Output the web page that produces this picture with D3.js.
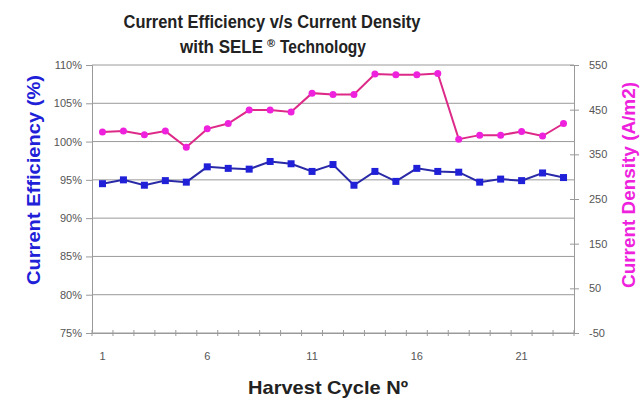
<!DOCTYPE html>
<html>
<head>
<meta charset="utf-8">
<script src="https://cdnjs.cloudflare.com/ajax/libs/d3/7.8.5/d3.min.js"></script>
<style>
  body { margin: 0; background: #fff; }
  text { font-family: "Liberation Sans", Arial, sans-serif; }
</style>
</head>
<body>
<div id="chart"></div>
<script>
// harvest cycles 1..23
let cycles = d3.range(1, 24);
let cycleLabels = [1, 6, 11, 16, 21];

// current efficiency (%), left axis
let efficiency = [94.5, 95.0, 94.3, 94.9, 94.7, 96.7, 96.5, 96.4, 97.4, 97.1, 96.1, 97.0,
  94.3, 96.1, 94.8, 96.5, 96.1, 96.0, 94.7, 95.1, 94.9, 95.9, 95.3];

// current density (A/m2), right axis
let density = [400, 402, 394, 402, 366, 407, 419, 449, 449, 445, 487, 484,
  484, 530, 528, 528, 531, 384, 393, 393, 401, 391, 419];

let leftTicks = [75, 80, 85, 90, 95, 100, 105, 110];
let rightTicks = [-50, 50, 150, 250, 350, 450, 550];

let svgWidth = 640;
let svgHeight = 402;
let plotLeft = 92;
let plotRight = 574;
let plotTop = 65;
let plotBottom = 333;

let blueColor = "#2020d8";
let blueLine = "#2a2aa8";
let pinkColor = "#ee22dd";
let pinkLine = "#dd2a88";
let gridColor = "#9a9a9a";
let textColor = "#555";

let svg = d3.select("#chart")
  .append("svg")
  .attr("width", svgWidth)
  .attr("height", svgHeight);

let xScale = d3.scaleBand()
  .domain(cycles)
  .range([plotLeft, plotRight]);

let yLeft = d3.scaleLinear()
  .domain([75, 110])
  .range([plotBottom, plotTop]);

let yRight = d3.scaleLinear()
  .domain([-50, 550])
  .range([plotBottom, plotTop]);

let cx = d => xScale(d) + xScale.bandwidth() / 2;

// gridlines
svg.append("g")
  .selectAll("line")
  .data(leftTicks)
  .enter()
  .append("line")
  .attr("x1", plotLeft)
  .attr("x2", plotRight)
  .attr("y1", d => yLeft(d))
  .attr("y2", d => yLeft(d))
  .attr("stroke", gridColor)
  .attr("stroke-width", 1);

// left axis
let leftAxis = svg.append("g")
  .attr("transform", "translate(" + plotLeft + ",0)")
  .call(d3.axisLeft(yLeft).tickValues(leftTicks).tickFormat(d => d + "%").tickSize(6).tickPadding(4));

// right axis
let rightAxis = svg.append("g")
  .attr("transform", "translate(" + plotRight + ",0)")
  .call(d3.axisRight(yRight).tickValues(rightTicks).tickFormat(d => String(d)).tickSize(0).tickPadding(15));
rightAxis.selectAll(".tick")
  .append("line")
  .attr("x1", -4)
  .attr("x2", 5)
  .attr("stroke", gridColor);

// bottom axis: ticks between categories, labels every 5th
let xAxis = svg.append("g")
  .attr("transform", "translate(0," + plotBottom + ")")
  .call(d3.axisBottom(xScale)
    .tickValues(cycleLabels)
    .tickSize(0)
    .tickPadding(19));
xAxis.selectAll(".boundary")
  .data(cycles.concat([24]))
  .enter()
  .append("line")
  .attr("class", "boundary")
  .attr("x1", d => d <= 23 ? xScale(d) : plotRight)
  .attr("x2", d => d <= 23 ? xScale(d) : plotRight)
  .attr("y1", -3)
  .attr("y2", 3)
  .attr("stroke", gridColor);

[leftAxis, rightAxis, xAxis].forEach(ax => {
  ax.select(".domain").attr("stroke", gridColor);
  ax.selectAll(".tick line").attr("stroke", gridColor);
  ax.selectAll("text")
    .attr("fill", textColor)
    .style("font-size", "11px");
});

// density line
let densityLine = d3.line()
  .x((d, i) => cx(cycles[i]))
  .y(d => yRight(d));

svg.append("path")
  .datum(density)
  .attr("d", densityLine)
  .attr("fill", "none")
  .attr("stroke", pinkLine)
  .attr("stroke-width", 2);

svg.append("g")
  .selectAll("circle")
  .data(density)
  .enter()
  .append("circle")
  .attr("cx", (d, i) => cx(cycles[i]))
  .attr("cy", d => yRight(d))
  .attr("r", 3.5)
  .attr("fill", pinkColor);

// efficiency line
let effLine = d3.line()
  .x((d, i) => cx(cycles[i]))
  .y(d => yLeft(d));

svg.append("path")
  .datum(efficiency)
  .attr("d", effLine)
  .attr("fill", "none")
  .attr("stroke", blueLine)
  .attr("stroke-width", 2);

svg.append("g")
  .selectAll("rect")
  .data(efficiency)
  .enter()
  .append("rect")
  .attr("x", (d, i) => cx(cycles[i]) - 3.5)
  .attr("y", d => yLeft(d) - 3.5)
  .attr("width", 7)
  .attr("height", 7)
  .attr("fill", blueColor);

// titles
function boldText(x, y, size, len, str, anchor) {
  return svg.append("text")
    .attr("x", x)
    .attr("y", y)
    .attr("text-anchor", anchor || "middle")
    .attr("font-weight", "bold")
    .attr("font-size", size)
    .attr("fill", "#222")
    .attr("textLength", len)
    .attr("lengthAdjust", "spacingAndGlyphs")
    .text(str);
}

boldText(272, 28, 18, 297, "Current Efficiency v/s Current Density");
boldText(180, 53, 18, 83, "with SELE", "start");
svg.append("text")
  .attr("x", 267)
  .attr("y", 47)
  .attr("font-weight", "bold")
  .attr("font-size", 11)
  .attr("fill", "#222")
  .text("®");
boldText(280, 53, 18, 86, "Technology", "start");

boldText(328, 394, 19, 160, "Harvest Cycle Nº");

svg.append("text")
  .attr("transform", "translate(40,180) rotate(-90)")
  .attr("text-anchor", "middle")
  .attr("font-weight", "bold")
  .attr("font-size", 19)
  .attr("fill", blueColor)
  .attr("textLength", 210)
  .attr("lengthAdjust", "spacingAndGlyphs")
  .text("Current Efficiency (%)");

svg.append("text")
  .attr("transform", "translate(635,185) rotate(-90)")
  .attr("text-anchor", "middle")
  .attr("font-weight", "bold")
  .attr("font-size", 19)
  .attr("fill", pinkColor)
  .attr("textLength", 206)
  .attr("lengthAdjust", "spacingAndGlyphs")
  .text("Current Density (A/m2)");
</script>
</body>
</html>
